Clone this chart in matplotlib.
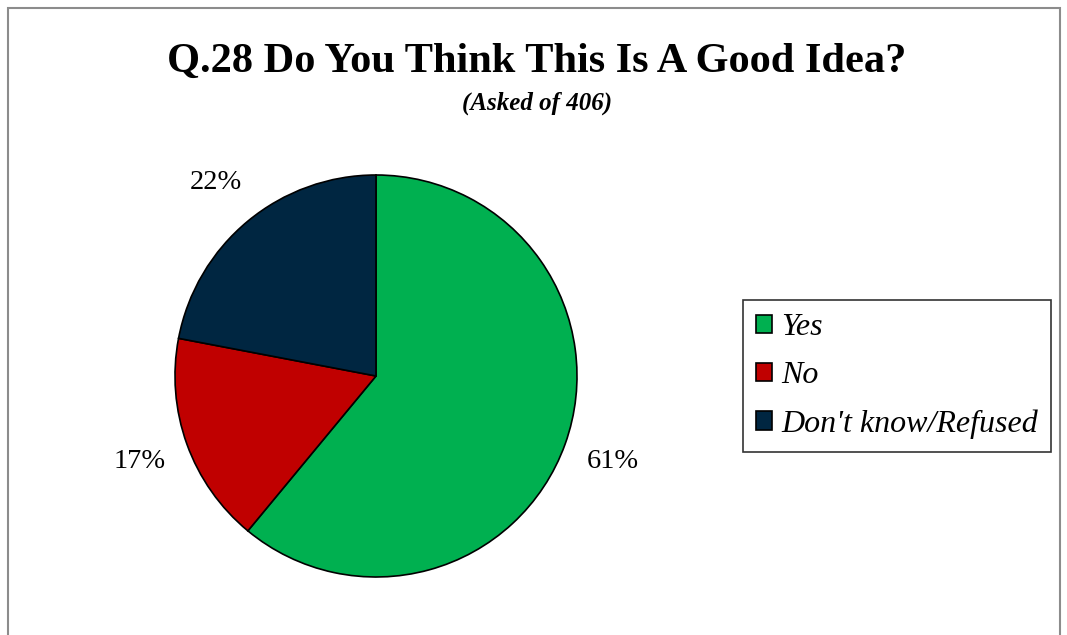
import matplotlib.pyplot as plt
from matplotlib.patches import Rectangle, Patch

labels = ['Yes', 'No', "Don't know/Refused"]
values = [61, 17, 22]
colors = ['#00B050', '#C00000', '#002641']

plt.rcParams['font.family'] = ['Liberation Serif', 'DejaVu Serif']

W, H = 1067, 635
fig = plt.figure(figsize=(W / 100, H / 100), dpi=100)

# gray outer frame (bottom edge runs off the image)
fig.patches.append(Rectangle((8 / W, -0.05), (1060 - 8) / W, (H - 8) / H + 0.05,
                             transform=fig.transFigure, fill=False,
                             edgecolor='#8c8c8c', lw=1.5))

fig.text(0.503, 1 - 62 / H, 'Q.28 Do You Think This Is A Good Idea?',
         ha='center', va='center', fontsize=30.5, fontweight='bold')
fig.text(0.503, 1 - 103 / H, '(Asked of 406)', ha='center', va='center',
         fontsize=18, fontweight='bold', fontstyle='italic')

# pie: centre (376, 376) px, radius ~201 px
r = 201
ax = fig.add_axes([(376 - r) / W, (H - 376 - r) / H, 2 * r / W, 2 * r / H])
wedges, texts, autotexts = ax.pie(values, colors=colors, startangle=90, counterclock=False,
                                  autopct='%d%%', pctdistance=1.25, radius=1,
                                  wedgeprops={'edgecolor': 'black', 'linewidth': 1.2})
for t in autotexts:
    t.set_fontsize(20.5)
ax.set_xlim(-1, 1)
ax.set_ylim(-1, 1)
ax.set_aspect('equal')

handles = [Patch(facecolor=c, edgecolor='black', lw=1.2) for c in colors]
leg = fig.legend(handles, labels, loc='center left',
                 bbox_to_anchor=(743 / W, 1 - 376 / H),
                 prop={'size': 23, 'style': 'italic'},
                 frameon=True, fancybox=False, handlelength=0.5, handleheight=0.5,
                 handletextpad=0.3, labelspacing=0.6, borderpad=0.4, borderaxespad=0)
leg.get_frame().set_edgecolor('black')
leg.get_frame().set_linewidth(1.2)

fig.savefig('out.png', dpi=100)
